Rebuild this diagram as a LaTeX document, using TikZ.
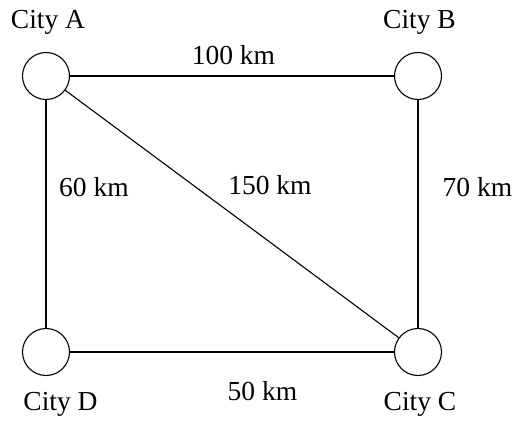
\documentclass[tikz,border=0pt]{standalone}
\usepackage{fontspec}
\setmainfont{Liberation Serif}
\usepackage{tikz}
\usetikzlibrary{positioning}
\tikzset{
	city/.style    ={circle, draw=black, line width=0.55pt, minimum size=23.5pt, inner sep=0pt},
	cityname/.style={anchor=base, font=\fontsize{13.75}{16}\selectfont},
	dist/.style    ={anchor=base, font=\fontsize{13.75}{16}\selectfont},
	road/.style    ={line width=0.55pt},
}
\begin{document}
\begin{tikzpicture}[x=0.5pt, y=-0.5pt]
	\useasboundingbox (0,0) rectangle (519,422);
	% cities
	\node[city] (A) at (46,76) {};
	\node[city] (B) at (418,76) {};
	\node[city] (C) at (418,352) {};
	\node[city] (D) at (46,352) {};
	\node[cityname] (nA) at (48,29) {City A};
	\node[cityname] (nB) at (419.5,29) {City B};
	\node[cityname] (nC) at (420,410) {City C};
	\node[cityname] (nD) at (60.5,410.5) {City D};
	% roads
	\draw[road] (A) -- (B);
	\draw[road] (B) -- (C);
	\draw[road] (C) -- (D);
	\draw[road] (D) -- (A);
	\draw[road] (A) -- (C);
	\node[dist] (dAB) at (233.5,65) {100 km};
	\node[dist] (dAD) at (94,197) {60 km};
	\node[dist] (dAC) at (270,195) {150 km};
	\node[dist] (dBC) at (477.5,197) {70 km};
	\node[dist] (dCD) at (262.5,400) {50 km};
\end{tikzpicture}
\end{document}
